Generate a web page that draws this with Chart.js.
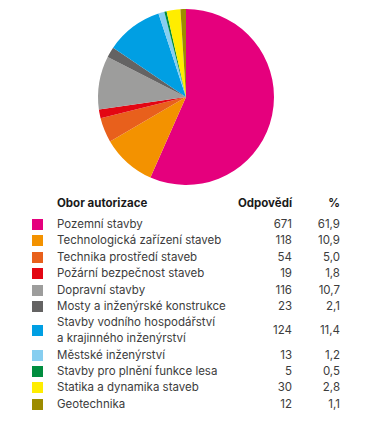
<!DOCTYPE html>
<html>
<head>
<meta charset="utf-8">
<script src="https://cdn.jsdelivr.net/npm/chart.js@4"></script>
<style>
  html, body { margin: 0; padding: 0; background: #fff; }
  body { width: 378px; height: 427px; position: relative; overflow: hidden; font-family: Inter, "Noto Sans", sans-serif; color: #3c3c3c; }
  #wrap { position: absolute; left: 0; top: 0; width: 378px; height: 190px; }
  #tbl { position: absolute; left: 0; top: 0; width: 378px; }
  .row { position: absolute; left: 0; width: 378px; font-size: 11.5px; line-height: 16.5px; }
  .sw { position: absolute; left: 32px; width: 11px; height: 11px; }
  .lab { position: absolute; left: 57px; }
  .cnt { position: absolute; right: 86px; text-align: right; }
  .pct { position: absolute; right: 38px; text-align: right; }
  .hdr { font-weight: 700; color: #1a1a1a; }
</style>
</head>
<body>
<div id="wrap"><canvas id="c" width="378" height="190"></canvas></div>
<div id="tbl"></div>
<script>
const categories = [
  "Pozemní stavby",
  "Technologická zařízení staveb",
  "Technika prostředí staveb",
  "Požární bezpečnost staveb",
  "Dopravní stavby",
  "Mosty a inženýrské konstrukce",
  "Stavby vodního hospodářství\na krajinného inženýrství",
  "Městské inženýrství",
  "Stavby pro plnění funkce lesa",
  "Statika a dynamika staveb",
  "Geotechnika"
];
const responses = [671, 118, 54, 19, 116, 23, 124, 13, 5, 30, 12];
const percents = ["61,9", "10,9", "5,0", "1,8", "10,7", "2,1", "11,4", "1,2", "0,5", "2,8", "1,1"];
const colors = ["#E5007D", "#F39200", "#E8601C", "#E30613", "#9D9D9C", "#646363", "#009FE3", "#87CEF0", "#008D3F", "#FFED00", "#9C8B00"];
const headers = ["Obor autorizace", "Odpovědí", "%"];

new Chart(document.getElementById('c'), {
  type: 'pie',
  data: {
    labels: categories,
    datasets: [{ data: responses, backgroundColor: colors, borderWidth: 0 }]
  },
  options: {
    responsive: false,
    animation: false,
    layout: { padding: { left: 98, right: 104, top: 9, bottom: 5 } },
    plugins: { legend: { display: false }, tooltip: { enabled: false } }
  }
});

// table layout
const tbl = document.getElementById('tbl');
const rowCenters = [224, 240, 257, 273, 290, 306, 330, 355, 371, 387, 404];
function addRow(center, lab, cnt, pct, color, hdr, twoLine) {
  const r = document.createElement('div');
  r.className = 'row' + (hdr ? ' hdr' : '');
  const h = twoLine ? 33 : 16.5;
  r.style.top = (center - h / 2) + 'px';
  r.style.height = h + 'px';
  if (color) {
    const s = document.createElement('div');
    s.className = 'sw';
    s.style.background = color;
    s.style.top = (h / 2 - 5.5) + 'px';
    r.appendChild(s);
  }
  const l = document.createElement('div');
  l.className = 'lab';
  l.innerHTML = lab.replace('\n', '<br>');
  r.appendChild(l);
  const c = document.createElement('div');
  c.className = 'cnt';
  c.textContent = cnt;
  c.style.top = (h / 2 - 8.25) + 'px';
  r.appendChild(c);
  const p = document.createElement('div');
  p.className = 'pct';
  p.textContent = pct;
  p.style.top = (h / 2 - 8.25) + 'px';
  r.appendChild(p);
  tbl.appendChild(r);
}
addRow(203, headers[0], headers[1], headers[2], null, true, false);
categories.forEach((cat, i) => {
  addRow(rowCenters[i], cat, String(responses[i]), percents[i], colors[i], false, cat.includes('\n'));
});
</script>
</body>
</html>
